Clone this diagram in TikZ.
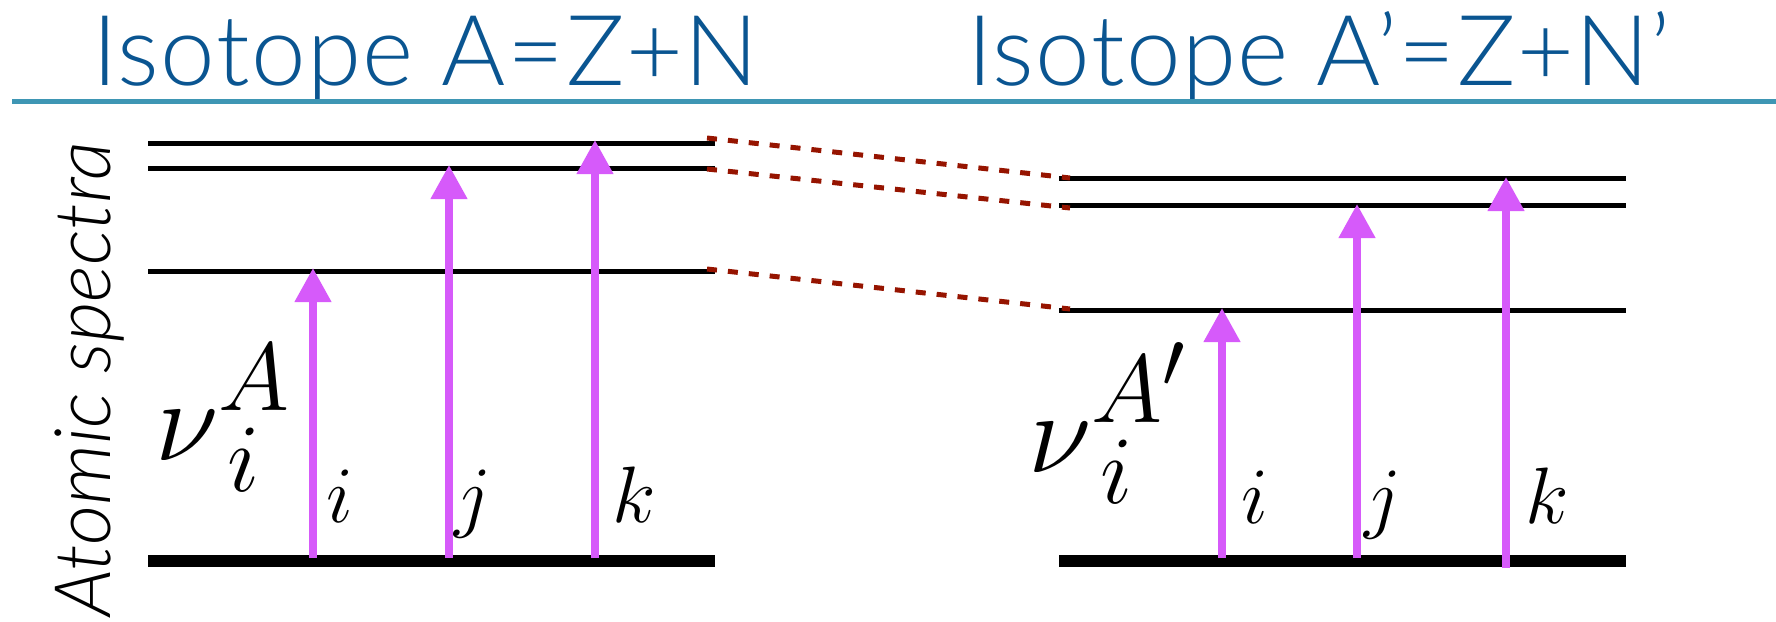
\documentclass[tikz,border=0pt]{standalone}
\usepackage{graphicx}
\usepackage{fontspec}
\usetikzlibrary{arrows.meta}
\newfontfamily\titlefont{Lato Light}[ItalicFont=Lato Light Italic, LetterSpace=1.5]
\newfontfamily\axisfont{Lato Light}[ItalicFont=Lato Light Italic]
\definecolor{titleblue}{RGB}{10,85,145}
\definecolor{rulecol}{RGB}{62,150,180}
\definecolor{arrowcol}{RGB}{214,90,250}
\definecolor{dashcol}{RGB}{150,20,0}
\newcommand{\bigmath}[1]{{\fontsize{24.88}{26}\selectfont\scalebox{2.33}{$#1$}}}
\newcommand{\midmath}[1]{{\fontsize{20.74}{22}\selectfont\scalebox{1.93}{$#1$}}}
\newcommand{\upsup}[1]{\raisebox{1.6pt}{$\scriptstyle #1$}}
\newcommand{\dnsub}[1]{\raisebox{-0.6pt}{$\scriptstyle\,#1$}}
\begin{document}
\begin{tikzpicture}[x=0.5pt,y=-0.5pt,
  level/.style={line width=2.5pt, black},
  ground/.style={line width=6pt, black},
  trans/.style={arrowcol, line width=3.75pt, -{Triangle[width=17.5pt,length=17pt]}},
  shiftline/.style={dashcol, line width=2.5pt, dash pattern=on 5pt off 5.5pt},
  title/.style={anchor=base west, inner sep=0, text=titleblue, font=\titlefont\fontsize{49}{52}\selectfont},
  lbl/.style={anchor=base west, inner sep=0},
  nu/.style={anchor=base west, inner sep=0}
]
\useasboundingbox (0,0) rectangle (1776,621);

% titles and rule
\node[title] (t1) at (92,85) {Isotope A=Z+N};
\node[title] (t2) at (967,85) {Isotope A’=Z+N’};
\coordinate (rw) at (12,101);
\coordinate (re) at (1776,101);
\draw[rulecol, line width=2.5pt] (rw) -- (re);

% axis label
\node[rotate=90, anchor=base west, inner sep=0, font=\axisfont\itshape\fontsize{39}{39}\selectfont] (ylab) at (110,617) {Atomic spectra};

% left levels
\coordinate (La1) at (148,143); \coordinate (Lb1) at (715,143);
\coordinate (La2) at (148,168); \coordinate (Lb2) at (715,168);
\coordinate (La3) at (148,271); \coordinate (Lb3) at (715,271);
\coordinate (Lg1) at (148,561); \coordinate (Lg2) at (715,561);
\draw[level] (La1) -- (Lb1);
\draw[level] (La2) -- (Lb2);
\draw[level] (La3) -- (Lb3);
\draw[ground] (Lg1) -- (Lg2);

% right levels
\coordinate (Ra1) at (1059,178); \coordinate (Rb1) at (1626,178);
\coordinate (Ra2) at (1059,205); \coordinate (Rb2) at (1626,205);
\coordinate (Ra3) at (1059,310); \coordinate (Rb3) at (1626,310);
\coordinate (Rg1) at (1059,561); \coordinate (Rg2) at (1626,561);
\draw[level] (Ra1) -- (Rb1);
\draw[level] (Ra2) -- (Rb2);
\draw[level] (Ra3) -- (Rb3);
\draw[ground] (Rg1) -- (Rg2);

% left transitions
\coordinate (Lis) at (313,558); \coordinate (Lie) at (313,268);
\coordinate (Ljs) at (449,558); \coordinate (Lje) at (449,165);
\coordinate (Lks) at (595,558); \coordinate (Lke) at (595,140);
\draw[trans] (Lis) -- (Lie);
\draw[trans] (Ljs) -- (Lje);
\draw[trans] (Lks) -- (Lke);

% right transitions
\coordinate (Ris) at (1222,558); \coordinate (Rie) at (1222,308);
\coordinate (Rjs) at (1357,558); \coordinate (Rje) at (1357,204);
\coordinate (Rks) at (1506,568); \coordinate (Rke) at (1506,177);
\draw[trans] (Ris) -- (Rie);
\draw[trans] (Rjs) -- (Rje);
\draw[trans] (Rks) -- (Rke);

% dashed connectors
\coordinate (d1a) at (707,138); \coordinate (d1b) at (1070,178);
\coordinate (d2a) at (707,169); \coordinate (d2b) at (1070,208);
\coordinate (d3a) at (707,269); \coordinate (d3b) at (1070,309);
\draw[shiftline] (d1a) -- (d1b);
\draw[shiftline] (d2a) -- (d2b);
\draw[shiftline] (d3a) -- (d3b);

% labels
\node[nu] (nuL) at (155,460) {\bigmath{\nu_{\dnsub{i}}^{\upsup{A}}}};
\node[nu] (nuR) at (1028,472) {\bigmath{\nu_{\dnsub{i}}^{\upsup{A'}}}};
\node[lbl] (li) at (326,522) {\midmath{i}};
\node[lbl] (lj) at (454,522) {\midmath{j}};
\node[lbl] (lk) at (612,522) {\midmath{k}};
\node[lbl] (ri) at (1241,523) {\midmath{i}};
\node[lbl] (rj) at (1364,523) {\midmath{j}};
\node[lbl] (rk) at (1525,523) {\midmath{k}};
\end{tikzpicture}
\end{document}
